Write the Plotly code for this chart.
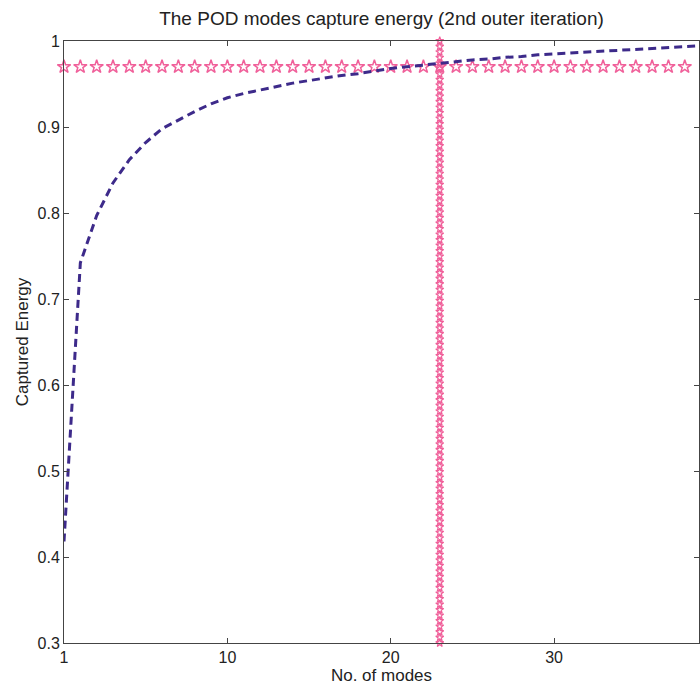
import numpy as np
import plotly.graph_objects as go

# Data (mode positions on the axis, captured energy)
mode_pos = list(range(0, 40))
captured_energy = [0.418, 0.742, 0.797, 0.835, 0.862, 0.882, 0.898, 0.908, 0.918, 0.927,
                   0.934, 0.939, 0.943, 0.947, 0.951, 0.954, 0.957, 0.960, 0.962, 0.965,
                   0.968, 0.970, 0.972, 0.974, 0.976, 0.978, 0.979, 0.981, 0.982, 0.984,
                   0.985, 0.986, 0.987, 0.988, 0.989, 0.990, 0.991, 0.992, 0.993, 0.9945]
threshold = 0.97
threshold_pos = list(range(0, 40))
threshold_vals = [threshold] * len(threshold_pos)
selected_mode = 23
vline_y = list(np.linspace(0.3, 1.0, 110))
vline_x = [selected_mode] * len(vline_y)

x_tickvals = [0, 10, 20, 30]
x_ticktext = ["1", "10", "20", "30"]
y_tickvals = [0.3, 0.4, 0.5, 0.6, 0.7, 0.8, 0.9, 1.0]
y_ticktext = ["0.3", "0.4", "0.5", "0.6", "0.7", "0.8", "0.9", "1"]

pink = "#f0609a"
purple = "#3d2a8a"

fig = go.Figure()
fig.add_trace(go.Scatter(
    x=threshold_pos, y=threshold_vals, mode="markers",
    marker=dict(symbol="star-open", size=10, color=pink, line=dict(width=1.5, color=pink)),
    cliponaxis=False, showlegend=False))
fig.add_trace(go.Scatter(
    x=vline_x, y=vline_y, mode="markers",
    marker=dict(symbol="star-open", size=6, color=pink, line=dict(width=1.2, color=pink)),
    cliponaxis=False, showlegend=False))
fig.add_trace(go.Scatter(
    x=mode_pos, y=captured_energy, mode="lines",
    line=dict(color=purple, width=3, dash="8px,5px"),
    showlegend=False))

axis_common = dict(showgrid=False, zeroline=False, showline=True, linecolor="#444",
                   linewidth=1, mirror="ticks", ticks="inside", ticklen=5,
                   tickcolor="#444", tickfont=dict(size=16, color="#222"),
                   automargin=False)

fig.update_layout(
    width=700, height=687,
    margin=dict(l=64, r=1, t=41, b=44),
    paper_bgcolor="white", plot_bgcolor="white",
    font=dict(family="Liberation Sans, Arial, sans-serif", color="#222"),
    title=dict(text="The POD modes capture energy (2nd outer iteration)",
               x=0.545, xanchor="center", y=0.974, yanchor="middle",
               font=dict(size=19, color="#222")),
    xaxis=dict(range=[0, 38.87], tickvals=x_tickvals, ticktext=x_ticktext,
               title=dict(text="No. of modes", font=dict(size=17), standoff=0),
               **axis_common),
    yaxis=dict(range=[0.3, 1.0], tickvals=y_tickvals, ticktext=y_ticktext,
               title=dict(text="Captured Energy", font=dict(size=17), standoff=4),
               **axis_common),
)

fig.write_html("out.html",
               config={"displayModeBar": False},
               post_script="document.body.style.margin='0';document.body.style.overflow='hidden';")
